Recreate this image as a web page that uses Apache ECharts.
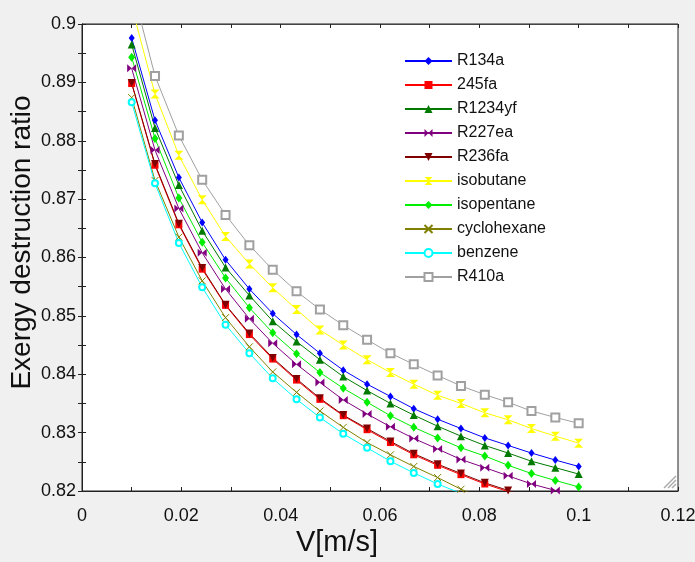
<!DOCTYPE html>
<html>
<head>
<meta charset="utf-8">
<script src="https://cdn.jsdelivr.net/npm/echarts@6/dist/echarts.min.js"></script>
<style>
html,body{margin:0;padding:0;background:#f0f0f0;}
#chart{width:695px;height:562px;}
</style>
</head>
<body>
<div id="chart"></div>
<script>
// V [m/s]
const xValues = [0.0100, 0.0147, 0.0195, 0.0242, 0.0289, 0.0337, 0.0384, 0.0432, 0.0479, 0.0526,
                 0.0574, 0.0621, 0.0668, 0.0716, 0.0763, 0.0811, 0.0858, 0.0905, 0.0953, 0.1000];

const R134a       = [0.8976, 0.8835, 0.8737, 0.8660, 0.8596, 0.8546, 0.8504, 0.8468, 0.8436, 0.8407,
                     0.8383, 0.8362, 0.8341, 0.8323, 0.8307, 0.8291, 0.8278, 0.8265, 0.8253, 0.8242];
const fa245       = [0.8898, 0.8758, 0.8656, 0.8580, 0.8518, 0.8468, 0.8426, 0.8390, 0.8357, 0.8329,
                     0.8305, 0.8283, 0.8262, 0.8244, 0.8228, 0.8212, 0.8199, 0.8186, 0.8174, 0.8163];
const R1234yf     = [0.8965, 0.8822, 0.8724, 0.8646, 0.8583, 0.8535, 0.8491, 0.8456, 0.8425, 0.8396,
                     0.8372, 0.8350, 0.8330, 0.8311, 0.8294, 0.8278, 0.8265, 0.8251, 0.8240, 0.8229];
const R227ea      = [0.8924, 0.8784, 0.8684, 0.8608, 0.8546, 0.8495, 0.8453, 0.8417, 0.8386, 0.8356,
                     0.8332, 0.8310, 0.8290, 0.8272, 0.8254, 0.8240, 0.8226, 0.8212, 0.8201, 0.8189];
const R236fa      = [0.8899, 0.8760, 0.8658, 0.8582, 0.8519, 0.8470, 0.8428, 0.8392, 0.8359, 0.8330,
                     0.8307, 0.8285, 0.8264, 0.8246, 0.8230, 0.8214, 0.8201, 0.8188, 0.8176, 0.8165];
const isobutane   = [0.9030, 0.8880, 0.8775, 0.8699, 0.8636, 0.8589, 0.8548, 0.8511, 0.8476, 0.8450,
                     0.8425, 0.8403, 0.8383, 0.8364, 0.8350, 0.8334, 0.8322, 0.8307, 0.8294, 0.8282];
const isopentane  = [0.8943, 0.8804, 0.8702, 0.8626, 0.8565, 0.8514, 0.8471, 0.8435, 0.8403, 0.8376,
                     0.8352, 0.8329, 0.8309, 0.8291, 0.8274, 0.8260, 0.8244, 0.8230, 0.8218, 0.8207];
const cyclohexane = [0.8874, 0.8732, 0.8635, 0.8560, 0.8497, 0.8447, 0.8404, 0.8369, 0.8337, 0.8309,
                     0.8283, 0.8262, 0.8242, 0.8223, 0.8203, 0.8187, 0.8173, 0.8160, 0.8148, 0.8137];
const benzene     = [0.8866, 0.8727, 0.8625, 0.8549, 0.8485, 0.8436, 0.8393, 0.8357, 0.8326, 0.8298,
                     0.8274, 0.8251, 0.8231, 0.8212, 0.8196, 0.8181, 0.8167, 0.8154, 0.8142, 0.8131];
const R410a       = [0.9066, 0.8911, 0.8809, 0.8733, 0.8673, 0.8621, 0.8579, 0.8542, 0.8511, 0.8484,
                     0.8459, 0.8436, 0.8417, 0.8398, 0.8380, 0.8365, 0.8352, 0.8337, 0.8326, 0.8316];

const seriesNames = ['R134a', '245fa', 'R1234yf', 'R227ea', 'R236fa', 'isobutane', 'isopentane', 'cyclohexane', 'benzene', 'R410a'];
const seriesValues = [R134a, fa245, R1234yf, R227ea, R236fa, isobutane, isopentane, cyclohexane, benzene, R410a];

const styles = [
  {color:'#0000ff', symbol:'diamond', size:[6,8]},
  {color:'#ff0000', symbol:'rect', size:7},
  {color:'#007a00', symbol:'triangle', size:8},
  {color:'#800080', symbol:'path://M0,0L5,4L0,8ZM10,0L5,4L10,8Z', size:[9,8]},
  {color:'#800000', symbol:'triangle', size:8, rotate:180},
  {color:'#ffff00', symbol:'path://M0,0L10,0L5,5ZM0,10L10,10L5,5Z', size:[9,9]},
  {color:'#00ee00', symbol:'diamond', size:[7,9]},
  {color:'#808000', symbol:'path://M0,0L10,10M10,0L0,10', size:7, stroke:true},
  {color:'#00ffff', symbol:'emptyCircle', size:6},
  {color:'#a0a0a0', symbol:'emptyRect', size:8}
];

const series = seriesNames.map((name, k) => {
  const s = styles[k];
  const itemStyle = s.stroke
    ? {color:'rgba(0,0,0,0)', borderColor:s.color, borderWidth:1}
    : {color:s.color};
  return {
    name: name,
    type: 'line',
    data: xValues.map((x, i) => [x, seriesValues[k][i]]),
    symbol: s.symbol,
    symbolSize: s.size,
    symbolRotate: s.rotate || 0,
    showAllSymbol: true,
    lineStyle: {color:s.color, width:1},
    itemStyle: itemStyle,
    emphasis: {disabled:true},
    animation: false,
    clip: true
  };
});

const txt = '#111';
const font = 'Liberation Sans, Arial, sans-serif';

const chart = echarts.init(document.getElementById('chart'), null, {renderer:'canvas'});
chart.setOption({
  backgroundColor: '#f0f0f0',
  animation: false,
  grid: {left:82, top:24, right:17, bottom:71, show:true, backgroundColor:'#ffffff', borderColor:'#222', borderWidth:1,
         outerBoundsMode:'none', containLabel:false},
  legend: {
    orient:'vertical', left:404, top:53, padding:0,
    itemWidth:47, itemHeight:10, itemGap:8,
    textStyle:{fontSize:16, color:txt, fontFamily:font, lineHeight:16},
    data: seriesNames
  },
  xAxis: [{
    type:'value', min:0, max:0.12, interval:0.02,
    name:'V[m/s]', nameLocation:'middle', nameGap:37, nameMoveOverlap:false,
    nameTextStyle:{fontSize:29, color:txt, fontFamily:font, padding:[0,86,0,0]},
    axisLine:{lineStyle:{color:'#222', width:1}},
    axisTick:{inside:true, length:4, lineStyle:{color:'#222'}},
    minorTick:{show:true, splitNumber:2, length:4, lineStyle:{color:'#222'}},
    axisLabel:{fontSize:18, color:txt, fontFamily:font, margin:16},
    splitLine:{show:false}
  },{
    type:'value', min:0, max:0.12, interval:0.02, position:'top',
    axisLine:{lineStyle:{color:'#444', width:1}},
    axisTick:{inside:true, length:4, lineStyle:{color:'#222'}},
    minorTick:{show:true, splitNumber:2, length:4, lineStyle:{color:'#222'}},
    axisLabel:{show:false}, splitLine:{show:false}
  }],
  yAxis: [{
    type:'value', min:0.82, max:0.9, interval:0.01,
    name:'Exergy destruction ratio', nameLocation:'middle', nameGap:46, nameMoveOverlap:false,
    nameTextStyle:{fontSize:28, color:txt, fontFamily:font, padding:[0,0,0,30]},
    axisLine:{lineStyle:{color:'#222', width:1}},
    axisTick:{inside:true, length:4, lineStyle:{color:'#222'}},
    minorTick:{show:true, splitNumber:2, length:4, lineStyle:{color:'#222'}},
    axisLabel:{fontSize:18, color:txt, fontFamily:font, margin:6},
    splitLine:{show:false}
  },{
    type:'value', min:0.82, max:0.9, interval:0.01, position:'right',
    axisLine:{lineStyle:{color:'#222', width:1}},
    axisTick:{inside:true, length:4, lineStyle:{color:'#222'}},
    minorTick:{show:true, splitNumber:2, length:4, lineStyle:{color:'#222'}},
    axisLabel:{show:false}, splitLine:{show:false}
  }],
  graphic: [
    {type:'line', shape:{x1:664, y1:488, x2:676, y2:476}, style:{stroke:'#aaa', lineWidth:1.5}},
    {type:'line', shape:{x1:668, y1:488, x2:676, y2:480}, style:{stroke:'#aaa', lineWidth:1.5}},
    {type:'line', shape:{x1:672, y1:488, x2:676, y2:484}, style:{stroke:'#aaa', lineWidth:1.5}}
  ],
  series: series
});
</script>
</body>
</html>
